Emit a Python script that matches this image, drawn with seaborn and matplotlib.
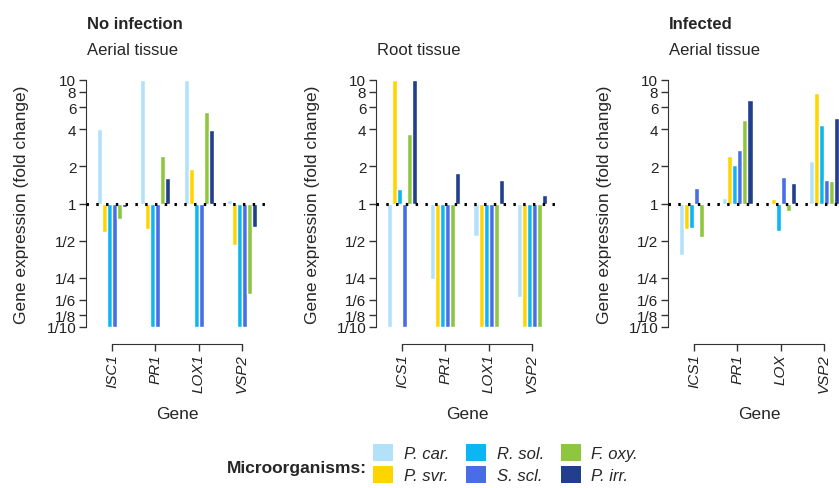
import matplotlib
matplotlib.use('Agg')

import numpy as np
import pandas as pd
import matplotlib.pyplot as plt
import seaborn as sns
from matplotlib.patches import Patch

# organisms and colours
organisms = ['P. car.', 'P. svr.', 'R. sol.', 'S. scl.', 'F. oxy.', 'P. irr.']
colors = ['#b4e1fa', '#ffd500', '#0bb6f2', '#476ee6', '#8ec63f', '#213f8c']

# fold change per gene, one list per organism order above
genes_a = ['ISC1', 'PR1', 'LOX1', 'VSP2']
noinf_aerial = {
    'ISC1': [4.0, 0.59, 0.1, 0.1, 0.75, 0.93],
    'PR1': [10, 0.62, 0.1, 0.1, 2.41, 1.6],
    'LOX1': [10, 1.91, 0.1, 0.1, 5.5, 3.94],
    'VSP2': [1.07, 0.46, 0.1, 0.1, 0.186, 0.64],
}

genes_b = ['ICS1', 'PR1', 'LOX1', 'VSP2']
noinf_root = {
    'ICS1': [0.1, 10, 1.31, 0.1, 3.66, 10],
    'PR1': [0.246, 0.1, 0.1, 0.1, 0.1, 1.76],
    'LOX1': [0.544, 0.1, 0.1, 0.1, 0.1, 1.55],
    'VSP2': [0.175, 0.1, 0.1, 0.1, 0.1, 1.18],
}

genes_c = ['ICS1', 'PR1', 'LOX', 'VSP2']
inf_aerial = {
    'ICS1': [0.385, 0.616, 0.63, 1.34, 0.534, 1.01],
    'PR1': [1.10, 2.44, 2.05, 2.72, 4.78, 6.93],
    'LOX': [1.0, 1.08, 0.60, 1.63, 0.87, 1.46],
    'VSP2': [2.2, 7.85, 4.33, 1.56, 1.51, 4.93],
}

ytick_vals = [0.1, 1/8, 1/6, 1/4, 1/2, 1, 2, 4, 6, 8, 10]
ytick_labels = ['1/10', '1/8', '1/6', '1/4', '1/2', '1', '2', '4', '6', '8', '10']


def to_frame(values, genes):
    rows = []
    for g in genes:
        for org, v in zip(organisms, values[g]):
            rows.append({'gene': g, 'organism': org, 'logfc': np.log10(v)})
    return pd.DataFrame(rows)


sns.set_style('white')
plt.rcParams['font.family'] = ['Liberation Sans', 'DejaVu Sans']

W, H = 839, 489
fig = plt.figure(figsize=(W / 100, H / 100), dpi=100)

panels = [
    (86, noinf_aerial, genes_a, 'No infection', 'Aerial tissue'),
    (376, noinf_root, genes_b, None, 'Root tissue'),
    (668, inf_aerial, genes_c, 'Infected', 'Aerial tissue'),
]

ax_w, ax_top, ax_bot = 182, 81, 328
dark = '#333333'

for left, vals, genes, title, sub in panels:
    ax = fig.add_axes([left / W, 1 - ax_bot / H, ax_w / W, (ax_bot - ax_top) / H])
    df = to_frame(vals, genes)
    sns.barplot(data=df, x='gene', y='logfc', hue='organism', order=genes,
                hue_order=organisms, palette=colors, width=0.7, saturation=1,
                legend=False, ax=ax)
    ax.axhline(0, color='black', lw=2.2, ls=(0, (0.8, 2.4)), zorder=10)

    # spines first: moving a spine resets the ticks
    for s in ['top', 'right']:
        ax.spines[s].set_visible(False)
    ax.spines['bottom'].set_position(('outward', 12))
    ax.spines['bottom'].set_bounds(0, 3)
    ax.spines['left'].set_color(dark)
    ax.spines['bottom'].set_color(dark)

    ax.set_xlim(-0.6, 3.6)
    ax.set_ylim(-1, 1)
    ax.set_yticks(np.log10(ytick_vals))
    ax.set_yticklabels(ytick_labels, fontsize=11, color='#222222')
    ax.set_xticks(range(4))
    ax.set_xticklabels(genes, rotation=90, fontsize=11, style='italic', color='#222222')
    ax.tick_params(axis='both', direction='out', length=5, width=1, color=dark, pad=2)
    ax.tick_params(left=True, bottom=True)

    ax.set_ylabel('Gene expression (fold change)', fontsize=12.5)
    ax.yaxis.label.set_va('center')
    ax.yaxis.set_label_coords(-64 / ax_w, 0.5)
    ax.set_xlabel('Gene', fontsize=12.5)
    ax.xaxis.label.set_va('baseline')
    ax.xaxis.set_label_coords(0.5, (ax_bot - 419) / (ax_bot - ax_top))

    if title:
        fig.text((left + 1) / W, 1 - 29 / H, title, fontsize=12, fontweight='bold',
                 va='baseline', ha='left')
    fig.text((left + 1) / W, 1 - 55 / H, sub, fontsize=12, va='baseline', ha='left')

# legend at the bottom
handles = [Patch(facecolor=c, edgecolor='none', label=o) for o, c in zip(organisms, colors)]
fig.legend(handles=handles, ncol=3, loc='upper left',
           bbox_to_anchor=(373 / W, 1 - 445 / H), frameon=False,
           prop={'style': 'italic', 'size': 12}, handlelength=1.2, handleheight=1.2,
           handletextpad=0.65, columnspacing=1.0, labelspacing=0.3,
           borderpad=0, borderaxespad=0)
fig.text(227 / W, 1 - 469 / H, 'Microorganisms:', fontsize=12.5, fontweight='bold',
         va='center', ha='left')

fig.savefig('out.png', dpi=100)
